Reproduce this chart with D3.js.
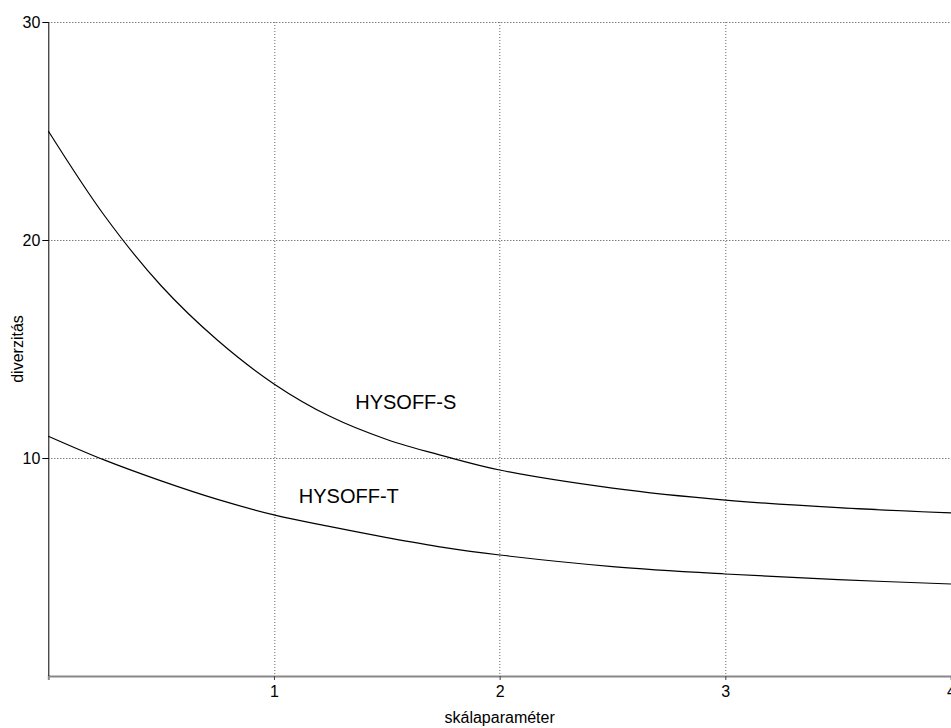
<!DOCTYPE html>
<html>
<head>
<meta charset="utf-8">
<script src="https://cdn.jsdelivr.net/npm/d3@7"></script>
<style>
  body { margin: 0; background: #fff; }
  svg { display: block; font-family: "Liberation Sans", Arial, sans-serif; }
</style>
</head>
<body>
<div id="chart"></div>
<script>
"use strict";

// data
const xValues = [0, 0.25, 0.5, 0.75, 1, 1.25, 1.5, 1.75, 2, 2.5, 3, 3.5, 4];
const hysoffS = [25.0, 21.1, 17.9, 15.4, 13.4, 11.9, 10.85, 10.1, 9.45, 8.62, 8.07, 7.72, 7.48];
const hysoffT = [11.0, 9.9, 8.95, 8.1, 7.39, 6.85, 6.35, 5.9, 5.55, 5.02, 4.68, 4.42, 4.22];
const xTicks = [1, 2, 3, 4];
const yTicks = [10, 20, 30];
const seriesLabels = [
  { name: "HYSOFF-S", x: 1.36, y: 12.25 },
  { name: "HYSOFF-T", x: 1.11, y: 7.95 },
];

const drawChart = () => {
  const W = 951, H = 728;
  const margin = { top: 22, right: 0, bottom: 52, left: 48.3 };
  const width = W - margin.left - margin.right,
    height = H - margin.top - margin.bottom;

  const svg = d3
    .select("#chart")
    .append("svg")
    .attr("width", W)
    .attr("height", H);

  const g = svg.append("g").attr("transform", `translate(${margin.left},${margin.top})`);

  const x = d3.scaleLinear().domain([0, 4]).range([0, width]);
  const y = d3.scaleLinear().domain([0, 30]).range([height, 0]);

  ///////////////////////////
  // dotted grid
  ///////////////////////////
  g.selectAll(".hgrid")
    .data(yTicks)
    .enter()
    .append("line")
    .attr("x1", 0)
    .attr("x2", width)
    .attr("y1", (d) => Math.round(y(d)) + 0.5)
    .attr("y2", (d) => Math.round(y(d)) + 0.5)
    .attr("stroke", "#444")
    .attr("stroke-dasharray", "1,2");

  g.selectAll(".vgrid")
    .data(xTicks)
    .enter()
    .append("line")
    .attr("x1", (d) => Math.round(x(d)) + 0.5)
    .attr("x2", (d) => Math.round(x(d)) + 0.5)
    .attr("y1", 0)
    .attr("y2", height)
    .attr("stroke", "#666")
    .attr("stroke-dasharray", "1,2");

  ///////////////////////////
  // axes
  ///////////////////////////
  const xAxis = g
    .append("g")
    .attr("transform", `translate(0,${height})`)
    .call(d3.axisBottom(x).tickValues(xTicks).tickSize(4).tickPadding(6).tickFormat(d3.format("d")));
  xAxis.attr("font-size", 16).attr("font-family", null);
  xAxis.select(".domain").attr("stroke", "#888").attr("stroke-width", 2);
  xAxis.selectAll(".tick line").attr("stroke", "#444");
  xAxis.selectAll("text").attr("fill", "#000");

  const yAxis = g
    .append("g")
    .call(d3.axisLeft(y).tickValues(yTicks).tickSize(6).tickPadding(2));
  yAxis.attr("font-size", 16).attr("font-family", null);
  yAxis.select(".domain").attr("stroke", "#000").attr("d", `M0.5,0V${height}`);
  yAxis.selectAll("text").attr("fill", "#000");

  ///////////////////////////
  // curves
  ///////////////////////////
  const line = d3
    .line()
    .x((d) => x(d[0]))
    .y((d) => y(d[1]))
    .curve(d3.curveCatmullRom);

  [hysoffS, hysoffT].forEach((vals) => {
    g.append("path")
      .datum(xValues.map((xv, i) => [xv, vals[i]]))
      .attr("fill", "none")
      .attr("stroke", "#000")
      .attr("stroke-width", 1.2)
      .attr("d", line);
  });

  g.selectAll(".lbl")
    .data(seriesLabels)
    .enter()
    .append("text")
    .attr("x", (d) => x(d.x))
    .attr("y", (d) => y(d.y))
    .attr("font-size", 20)
    .text((d) => d.name);

  ///////////////////////////
  // axis titles
  ///////////////////////////
  svg.append("text")
    .attr("x", margin.left + x(2))
    .attr("y", 723)
    .attr("text-anchor", "middle")
    .attr("font-size", 16)
    .text("skálaparaméter");

  svg.append("text")
    .attr("transform", `translate(23,${margin.top + y(15)}) rotate(-90)`)
    .attr("text-anchor", "middle")
    .attr("font-size", 16)
    .text("diverzitás");
};

drawChart();
</script>
</body>
</html>
